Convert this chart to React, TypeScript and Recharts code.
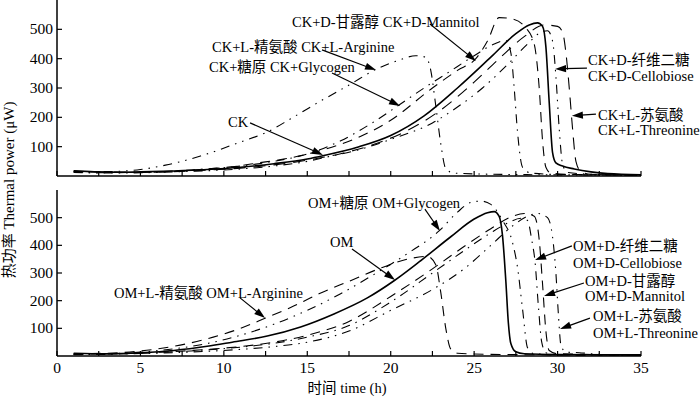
import React from 'react';
import { LineChart, Line, XAxis, YAxis, ReferenceLine } from 'recharts';

const FONT = "'Liberation Serif', 'Times New Roman', 'Noto Sans CJK SC', serif";

// axis ticks
const xTicks = [0, 2.5, 5, 7.5, 10, 12.5, 15, 17.5, 20, 22.5, 25, 27.5, 30, 32.5, 35];
const yTicks = [100, 200, 300, 400, 500];

// ---------- top panel (CK) ----------
const ckT = [1, 2, 3, 4, 5, 7, 9, 11, 13, 15, 16, 18, 20, 22, 24, 26, 27.5, 28.3, 28.8, 29.1, 29.3, 29.5, 29.7, 29.9, 30.3, 31, 32, 33, 35];
const ckV = [18, 15, 13, 13, 14, 17, 22, 30, 42, 58, 70, 98, 138, 205, 300, 405, 485, 515, 522, 510, 440, 250, 80, 45, 34, 24, 14, 8, 4];

const ckArgT = [1, 3, 5, 6.5, 8.6, 11, 12.6, 14, 15.6, 17.5, 19.2, 20.5, 21.5, 22.1, 22.4, 22.7, 23.0, 23.3, 23.8, 26, 30, 35];
const ckArgV = [14, 15, 22, 37, 68, 116, 150, 195, 249, 310, 366, 395, 410, 405, 360, 240, 110, 25, 10, 6, 4, 3];

const ckGlyT = [1, 3, 5, 7, 9, 11, 13, 15, 17, 19, 20.5, 22, 23.5, 25, 26.2, 26.9, 27.2, 27.4, 27.6, 27.9, 28.4, 30, 35];
const ckGlyV = [12, 11, 13, 17, 24, 34, 50, 75, 120, 185, 242, 300, 355, 410, 450, 462, 420, 300, 150, 30, 10, 5, 3];

const ckManT = [1, 3, 5, 7, 9, 10.4, 12, 14, 16, 18, 20, 22.5, 24, 25.1, 25.8, 26.5, 27.3, 28.1, 28.6, 28.9, 29.1, 29.3, 29.6, 31, 35];
const ckManV = [16, 13, 13, 16, 24, 31, 44, 62, 90, 130, 190, 300, 360, 400, 460, 540, 535, 505, 450, 300, 120, 30, 10, 5, 3];

const ckCelT = [1, 3, 5, 7, 9, 11, 13, 15, 16.2, 18, 20, 22.5, 24, 25.5, 27, 28.2, 29, 29.4, 29.7, 29.9, 30.1, 30.3, 30.6, 32, 35];
const ckCelV = [14, 10, 11, 14, 18, 24, 34, 50, 65, 88, 125, 181, 235, 300, 380, 450, 490, 495, 460, 340, 160, 40, 12, 6, 3];

const ckThrT = [1, 3, 5, 7, 9, 11, 13, 15, 17, 19, 21, 23, 25, 26.5, 28, 29.2, 30, 30.3, 30.5, 30.7, 30.9, 31.1, 31.4, 32, 35];
const ckThrV = [16, 14, 13, 15, 20, 27, 38, 54, 76, 108, 155, 225, 320, 400, 475, 515, 510, 490, 420, 300, 160, 50, 15, 6, 3];

// ---------- bottom panel (OM) ----------
const omT = [1, 3, 5, 7, 9, 10.5, 12.6, 14.6, 16.6, 18.6, 20.2, 21.7, 23.6, 25, 25.8, 26.2, 26.5, 26.7, 26.9, 27.05, 27.2, 27.5, 28, 30, 35];
const omV = [10, 8, 12, 20, 35, 50, 72, 105, 152, 210, 272, 340, 431, 495, 518, 522, 505, 435, 270, 120, 45, 15, 8, 5, 4];

const omArgT = [1, 3, 5, 7, 9, 11, 12.5, 14, 15.7, 17.5, 19.5, 21, 22.2, 22.7, 23.0, 23.3, 23.6, 24, 26, 30, 35];
const omArgV = [8, 10, 18, 35, 62, 100, 137, 175, 225, 270, 320, 350, 360, 330, 230, 100, 25, 10, 6, 4, 3];

const omGlyT = [1, 3, 5, 7, 9, 11, 13, 15, 17, 19, 21, 22.9, 24, 24.8, 25.4, 26, 26.7, 27.3, 27.6, 27.9, 28.2, 28.6, 30, 35];
const omGlyV = [6, 8, 14, 26, 45, 75, 115, 165, 225, 295, 370, 452, 520, 555, 560, 548, 490, 410, 320, 170, 30, 8, 5, 3];

const omCelT = [1, 3, 5, 7, 9, 11, 13, 15, 17.5, 20, 22.5, 24.5, 26, 27, 27.8, 28.2, 28.45, 28.65, 28.85, 29.05, 29.3, 30, 35];
const omCelV = [5, 6, 10, 15, 22, 32, 46, 68, 110, 195, 300, 385, 445, 480, 498, 490, 420, 340, 180, 50, 12, 5, 3];

const omManT = [1, 3, 5, 7, 9, 11, 13, 15, 17.5, 20, 22.5, 24.5, 26, 27.3, 28, 28.6, 28.9, 29.1, 29.3, 29.5, 30, 35];
const omManV = [7, 7, 11, 16, 24, 34, 50, 75, 125, 215, 315, 400, 460, 505, 515, 505, 420, 260, 90, 20, 8, 4];

const omThrT = [1, 3, 5, 7, 9, 11, 13, 15, 17.5, 20, 22.5, 24.5, 26, 27.3, 28.3, 28.8, 29.4, 29.7, 29.9, 30.05, 30.2, 30.5, 31.3, 32.5, 35];
const omThrV = [6, 8, 9, 12, 17, 24, 34, 50, 90, 165, 240, 320, 400, 470, 508, 515, 500, 430, 300, 150, 40, 14, 12, 6, 4];

// annotation arrows: tail (t1,v1) -> tip (t2,v2), in data units
const ckArrowT1 = [22.35, 15.88, 16.48, 11.57, 31.76, 32.3];
const ckArrowV1 = [518, 430, 351, 181, 368, 211];
const ckArrowT2 = [25.11, 19.12, 20.56, 15.94, 29.85, 30.86];
const ckArrowV2 = [392, 361, 239, 72, 365, 205];

const omArrowT1 = [22.05, 17.68, 10.97, 30.86, 31.58, 31.94];
const omArrowV1 = [531, 387, 210, 398, 264, 137];
const omArrowT2 = [22.95, 20.26, 12.47, 28.65, 29.19, 30.15];
const omArrowV2 = [452, 275, 137, 347, 217, 98];

const zip = (t: number[], v: number[]) => t.map((x, i) => ({ t: x, v: v[i] }));

const SOLID = undefined;
const LONG = '10 7';
const DASHDOT = '9 6 1.5 6';
const DASHDOTDOT = '9 6 1.5 6 1.5 6';

const topSeries = [
  { key: 'CK', t: ckT, v: ckV, dash: SOLID, w: 1.6 },
  { key: 'CK+L-Arginine', t: ckArgT, v: ckArgV, dash: DASHDOTDOT, w: 1.1 },
  { key: 'CK+Glycogen', t: ckGlyT, v: ckGlyV, dash: DASHDOT, w: 1.1 },
  { key: 'CK+D-Mannitol', t: ckManT, v: ckManV, dash: LONG, w: 1.1 },
  { key: 'CK+D-Cellobiose', t: ckCelT, v: ckCelV, dash: DASHDOTDOT, w: 1.1 },
  { key: 'CK+L-Threonine', t: ckThrT, v: ckThrV, dash: '12 8', w: 1.1 },
];

const bottomSeries = [
  { key: 'OM', t: omT, v: omV, dash: SOLID, w: 1.6 },
  { key: 'OM+L-Arginine', t: omArgT, v: omArgV, dash: LONG, w: 1.1 },
  { key: 'OM+Glycogen', t: omGlyT, v: omGlyV, dash: DASHDOTDOT, w: 1.1 },
  { key: 'OM+D-Cellobiose', t: omCelT, v: omCelV, dash: DASHDOT, w: 1.1 },
  { key: 'OM+D-Mannitol', t: omManT, v: omManV, dash: LONG, w: 1.1 },
  { key: 'OM+L-Threonine', t: omThrT, v: omThrV, dash: DASHDOTDOT, w: 1.1 },
];

const makeXTick = (showLabels: boolean) => (props: any) => {
  const { x, y, payload } = props;
  const major = payload.value % 5 === 0;
  return (
    <g>
      <line x1={x} x2={x} y1={y} y2={y - 5} stroke="#000" strokeWidth={1.2} />
      {showLabels && major ? (
        <text x={x} y={y + 17} textAnchor="middle" fontSize={15.5} fontFamily={FONT} fill="#000">
          {payload.value}
        </text>
      ) : null}
    </g>
  );
};

const YTick = (props: any) => {
  const { x, y, payload } = props;
  return (
    <g>
      <line x1={x} x2={x + 5} y1={y} y2={y} stroke="#000" strokeWidth={1.2} />
      <text x={x - 4} y={y + 5} textAnchor="end" fontSize={15.5} fontFamily={FONT} fill="#000">
        {payload.value}
      </text>
    </g>
  );
};

const ArrowShape = (props: any) => {
  const { x1, y1, x2, y2 } = props;
  const dx = x2 - x1;
  const dy = y2 - y1;
  const len = Math.hypot(dx, dy) || 1;
  const ux = dx / len;
  const uy = dy / len;
  const hl = 11;
  const hw = 3.6;
  const bx = x2 - ux * hl;
  const by = y2 - uy * hl;
  const px = -uy;
  const py = ux;
  const pts = `${x2},${y2} ${bx + px * hw},${by + py * hw} ${bx - px * hw},${by - py * hw}`;
  return (
    <g>
      <line x1={x1} y1={y1} x2={bx + ux * 2} y2={by + uy * 2} stroke="#000" strokeWidth={1.2} />
      <polygon points={pts} fill="#000" />
    </g>
  );
};

const axisLineStyle = { stroke: '#000', strokeWidth: 1.5 };

function Panel(props: {
  series: typeof topSeries;
  at1: number[]; av1: number[]; at2: number[]; av2: number[];
  showXLabels: boolean; height: number; top: number; xHeight: number;
}) {
  const { series, at1, av1, at2, av2, showXLabels, height, top, xHeight } = props;
  return (
    <LineChart width={700} height={height} margin={{ top, right: 59, left: 0, bottom: 0 }}>
      <XAxis
        type="number"
        dataKey="t"
        domain={[0, 35]}
        ticks={xTicks}
        interval={0}
        height={xHeight}
        tickSize={0}
        tickMargin={0}
        tickLine={false}
        axisLine={axisLineStyle}
        tick={makeXTick(showXLabels)}
        allowDataOverflow
      />
      <YAxis
        type="number"
        domain={[0, 600]}
        ticks={yTicks}
        interval={0}
        width={57}
        tickSize={0}
        tickMargin={0}
        tickLine={false}
        axisLine={axisLineStyle}
        tick={YTick}
        allowDataOverflow
      />
      {series.map((s) => (
        <Line
          key={s.key}
          name={s.key}
          data={zip(s.t, s.v)}
          dataKey="v"
          type="monotone"
          dot={false}
          activeDot={false}
          stroke="#000"
          strokeWidth={s.w}
          strokeDasharray={s.dash}
          isAnimationActive={false}
        />
      ))}
      {at1.map((_, i) => (
        <ReferenceLine
          key={'a' + i}
          segment={[{ x: at1[i], y: av1[i] }, { x: at2[i], y: av2[i] }]}
          shape={ArrowShape}
          ifOverflow="visible"
        />
      ))}
    </LineChart>
  );
}

const T = (p: { x: number; y: number; children: React.ReactNode }) => (
  <text x={p.x} y={p.y} fontSize={14.5} fontFamily={FONT} fill="#000">
    {p.children}
  </text>
);

export default function App() {
  return (
    <div style={{ position: 'absolute', left: 0, top: 0, width: 700, height: 398, background: '#fff', overflow: 'hidden' }}>
      <div style={{ position: 'absolute', left: 0, top: 0 }}>
        <Panel series={topSeries} at1={ckArrowT1} av1={ckArrowV1} at2={ckArrowT2} av2={ckArrowV2}
          showXLabels={false} height={178} top={0} xHeight={2} />
      </div>
      <div style={{ position: 'absolute', left: 0, top: 186 }}>
        <Panel series={bottomSeries} at1={omArrowT1} av1={omArrowV1} at2={omArrowT2} av2={omArrowV2}
          showXLabels={true} height={212} top={4} xHeight={42} />
      </div>
      <svg width={700} height={398} style={{ position: 'absolute', left: 0, top: 0, pointerEvents: 'none' }}>
        {/* top annotations */}
        <T x={292} y={27}>CK+D-甘露醇 CK+D-Mannitol</T>
        <T x={212} y={52}>CK+L-精氨酸 CK+L-Arginine</T>
        <T x={209} y={72}>CK+糖原 CK+Glycogen</T>
        <T x={228} y={127}>CK</T>
        <T x={588} y={65}>CK+D-纤维二糖</T>
        <T x={588} y={81}>CK+D-Cellobiose</T>
        <T x={598} y={120}>CK+L-苏氨酸</T>
        <T x={598} y={135}>CK+L-Threonine</T>
        {/* bottom annotations */}
        <T x={308} y={208}>OM+糖原 OM+Glycogen</T>
        <T x={330} y={247}>OM</T>
        <T x={114} y={298}>OM+L-精氨酸 OM+L-Arginine</T>
        <T x={573} y={251}>OM+D-纤维二糖</T>
        <T x={573} y={268}>OM+D-Cellobiose</T>
        <T x={585} y={286}>OM+D-甘露醇</T>
        <T x={585} y={301}>OM+D-Mannitol</T>
        <T x={593} y={321}>OM+L-苏氨酸</T>
        <T x={593} y={338}>OM+L-Threonine</T>
        {/* axis titles */}
        <text x={347} y={393} textAnchor="middle" fontSize={14.5} fontFamily={FONT} fill="#000">时间 time (h)</text>
        <text x={0} y={0} transform="translate(14,190) rotate(-90)" textAnchor="middle" fontSize={15} fontFamily={FONT} fill="#000">
          热功率 Thermal power (μW)
        </text>
      </svg>
    </div>
  );
}
